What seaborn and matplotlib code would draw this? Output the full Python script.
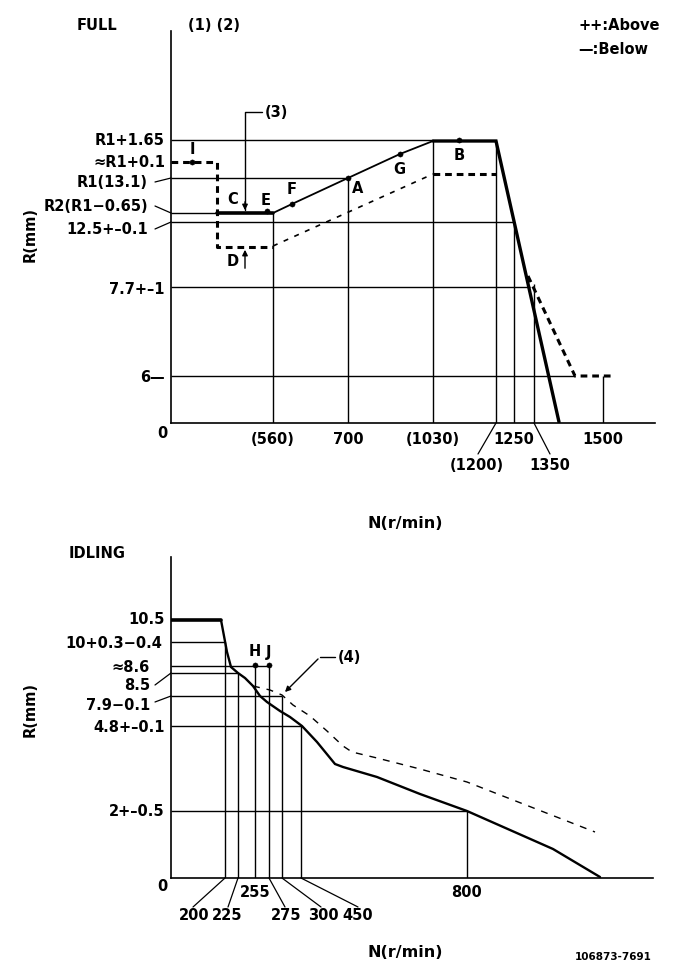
import matplotlib
matplotlib.use("Agg")
import matplotlib.pyplot as plt
import seaborn as sns
from matplotlib import font_manager

# Datos FULL (unidades del dibujo, origen en el cruce de ejes)
full_solid_flat_x = [46, 102]
full_solid_flat_y = [210, 210]
full_solid_rise_x = [102, 121, 177, 229, 262]
full_solid_rise_y = [210, 219, 245, 269, 282]
full_solid_top_x = [262, 325, 388]
full_solid_top_y = [282, 282, 1]
full_dash_low_x = [0, 46, 46, 102]
full_dash_low_y = [261, 261, 176, 176]
full_dash_rise_x = [102, 262]
full_dash_rise_y = [177, 249]
full_dash_top_x = [262, 325]
full_dash_top_y = [249, 249]
full_dash_fall_x = [357, 404, 442]
full_dash_fall_y = [147, 47, 47]

full_hlines_y = [283, 245, 210, 201, 136, 47]
full_hlines_end = [262, 177, 46, 343, 359, 404]
full_vlines_x = [102, 177, 262, 325, 343, 363, 432]
full_vlines_top = [210, 245, 282, 282, 201, 139, 47]

full_pts_name = ["I", "E", "F", "A", "G", "B"]
full_pts_x = [21, 96, 121, 177, 229, 288]
full_pts_y = [261, 212, 219, 245, 269, 283]
full_lbl_name = ["I", "C", "E", "F", "A", "G", "B", "D"]
full_lbl_x = [21, 62, 95, 121, 187, 228, 288, 62]
full_lbl_y = [274, 224, 223, 234, 235, 254, 268, 162]

full_ylabels = ["R1+1.65", "\u2248R1+0.1", "R1(13.1)", "R2(R1\u22120.65)", "12.5+\u20130.1", "7.7+\u20131", "6\u2014"]
full_ylabel_x = [-6, -6, -23, -23, -23, -6, -6]
full_ylabel_y = [283, 261, 241, 217, 194, 135, 47]
full_xlabels = ["(560)", "700", "(1030)", "1250", "1500", "(1200)", "1350"]
full_xlabel_x = [102, 177, 262, 343, 432, 306, 379]
full_xlabel_y = [-16, -16, -16, -16, -16, -42, -42]

# Datos IDLING
idl_solid_flat_x = [0, 50]
idl_solid_flat_y = [258, 258]
idl_solid_x = [50, 56, 60, 67, 74, 82, 89, 96, 109, 119, 131, 146, 164, 172, 206, 249, 296, 382, 429]
idl_solid_y = [258, 226, 211, 205, 200, 192, 182, 176, 167, 161, 152, 136, 114, 111, 101, 84, 67, 29, 1]
idl_dash_x = [82, 99, 111, 122, 139, 156, 172, 181, 206, 249, 296, 424]
idl_dash_y = [192, 188, 183, 173, 162, 147, 132, 126, 120, 109, 96, 46]

idl_hlines_y = [236, 212, 205, 182, 152, 67]
idl_hlines_end = [54, 99, 67, 111, 131, 296]
idl_vlines_x = [54, 67, 84, 98, 111, 130, 296]
idl_vlines_top = [236, 205, 212, 212, 182, 152, 67]

idl_pts_name = ["H", "J"]
idl_pts_x = [84, 98]
idl_pts_y = [213, 213]

idl_ylabels = ["10.5", "10+0.3\u22120.4", "\u22488.6", "8.5", "7.9\u22120.1", "4.8+\u20130.1", "2+\u20130.5"]
idl_ylabel_x = [-6, -9, -21, -21, -21, -6, -6]
idl_ylabel_y = [259, 236, 212, 193, 174, 152, 67]
idl_xlabels = ["255", "800", "200", "225", "275", "300", "450"]
idl_xlabel_x = [84, 296, 23, 56, 115, 152, 187]
idl_xlabel_y = [-14, -14, -37, -37, -37, -37, -37]

# Fuente estrecha si existe
names = {f.name for f in font_manager.fontManager.ttflist}
if "Liberation Sans Narrow" in names:
    fam = "Liberation Sans Narrow"
else:
    fam = "DejaVu Sans"

sns.set_theme(style="white")
plt.rcParams["font.family"] = [fam]

W, H = 681, 979
fig = plt.figure(figsize=(W / 100, H / 100), dpi=100)


def make_ax(x0, y0, x1, y1):
    ax = fig.add_axes([x0 / W, (H - y0) / H, (x1 - x0) / W, (y0 - y1) / H])
    ax.set_xlim(0, x1 - x0)
    ax.set_ylim(0, y0 - y1)
    for s in ["top", "right"]:
        ax.spines[s].set_visible(False)
    for s in ["left", "bottom"]:
        ax.spines[s].set_color("black")
        ax.spines[s].set_linewidth(1.2)
    ax.set_xticks([])
    ax.set_yticks([])
    ax.set_facecolor("white")
    return ax


def curva(ax, x, y, lw, dashes=None):
    line = sns.lineplot(x=x, y=y, estimator=None, sort=False, color="black",
                        lw=lw, ax=ax, legend=False)
    l = ax.lines[-1]
    if dashes:
        l.set_dashes(dashes)
    l.set_solid_joinstyle("miter")
    return line


txt = dict(color="black", fontsize=10.5, fontweight="bold", clip_on=False)

# ---------------- FULL ----------------
ax1 = make_ax(171, 424, 655, 32)
for yv, xe in zip(full_hlines_y, full_hlines_end):
    ax1.hlines(yv, 0, xe, color="black", lw=1)
for xv, yt in zip(full_vlines_x, full_vlines_top):
    ax1.vlines(xv, 0, yt, color="black", lw=1)

curva(ax1, full_solid_flat_x, full_solid_flat_y, 2.6)
curva(ax1, full_solid_rise_x, full_solid_rise_y, 1.3)
curva(ax1, full_solid_top_x, full_solid_top_y, 2.4)
curva(ax1, full_dash_low_x, full_dash_low_y, 2.2, (2.2, 1.6))
curva(ax1, full_dash_rise_x, full_dash_rise_y, 1.2, (3, 4))
curva(ax1, full_dash_top_x, full_dash_top_y, 2.2, (2.2, 1.6))
curva(ax1, full_dash_fall_x, full_dash_fall_y, 2.2, (2.2, 1.6))

sns.scatterplot(x=full_pts_x, y=full_pts_y, color="black", s=14, ax=ax1,
                edgecolor="black", legend=False)
for n, x, y in zip(full_lbl_name, full_lbl_x, full_lbl_y):
    ax1.text(x, y, n, ha="center", va="center", **txt)

# indicador (3)
ax1.plot([74, 74, 91], [213, 311, 311], color="black", lw=1)
ax1.annotate("", xy=(74, 210), xytext=(74, 224),
             arrowprops=dict(arrowstyle="-|>", color="black", lw=1, mutation_scale=8))
ax1.annotate("", xy=(74, 176), xytext=(74, 152),
             arrowprops=dict(arrowstyle="-|>", color="black", lw=1, mutation_scale=8))
ax1.text(94, 311, "(3)", ha="left", va="center", **txt)

for lab, x, y in zip(full_ylabels, full_ylabel_x, full_ylabel_y):
    ax1.text(x, y, lab, ha="right", va="center", **txt)
for y0, y1 in [(241, 245), (217, 210), (194, 201)]:
    ax1.plot([-16, 0], [y0, y1], color="black", lw=0.9, clip_on=False)
ax1.text(-9, -10, "0", ha="center", va="center", **txt)
for lab, x, y in zip(full_xlabels, full_xlabel_x, full_xlabel_y):
    ax1.text(x, y, lab, ha="center", va="center", **txt)
ax1.plot([325, 307], [0, -31], color="black", lw=0.9, clip_on=False)
ax1.plot([363, 379], [0, -31], color="black", lw=0.9, clip_on=False)

# ---------------- IDLING ----------------
ax2 = make_ax(171, 879, 653, 558)
for yv, xe in zip(idl_hlines_y, idl_hlines_end):
    ax2.hlines(yv, 0, xe, color="black", lw=1)
for xv, yt in zip(idl_vlines_x, idl_vlines_top):
    ax2.vlines(xv, 0, yt, color="black", lw=1)

curva(ax2, idl_solid_flat_x, idl_solid_flat_y, 2.6)
curva(ax2, idl_solid_x, idl_solid_y, 1.7)
curva(ax2, idl_dash_x, idl_dash_y, 1.0, (5, 5))

sns.scatterplot(x=idl_pts_x, y=idl_pts_y, color="black", s=14, ax=ax2,
                edgecolor="black", legend=False)
for n, x, y in zip(idl_pts_name, idl_pts_x, [227, 227]):
    ax2.text(x, y, n, ha="center", va="center", **txt)

# indicador (4)
ax2.plot([149, 164], [221, 221], color="black", lw=1)
ax2.annotate("", xy=(112, 184), xytext=(149, 221),
             arrowprops=dict(arrowstyle="-|>", color="black", lw=1, mutation_scale=8))
ax2.text(167, 221, "(4)", ha="left", va="center", **txt)

for lab, x, y in zip(idl_ylabels, idl_ylabel_x, idl_ylabel_y):
    ax2.text(x, y, lab, ha="right", va="center", **txt)
for y0, y1 in [(193, 205), (176, 182)]:
    ax2.plot([-16, 0], [y0, y1], color="black", lw=0.9, clip_on=False)
ax2.text(-9, -8, "0", ha="center", va="center", **txt)
for lab, x, y in zip(idl_xlabels, idl_xlabel_x, idl_xlabel_y):
    ax2.text(x, y, lab, ha="center", va="center", **txt)
for xa, xb in [(54, 22), (67, 57), (98, 114), (111, 150), (130, 187)]:
    ax2.plot([xa, xb], [0, -29], color="black", lw=0.9, clip_on=False)

# ---------------- Textos generales ----------------
def ftext(x, y, s, **kw):
    opts = dict(txt)
    opts.pop("clip_on")
    opts.update(kw)
    fig.text(x / W, 1 - y / H, s, **opts)

ftext(97, 25, "FULL", ha="center", va="center")
ftext(214, 25, "(1) (2)", ha="center", va="center")
ftext(578, 25, "++:Above", ha="left", va="center")
ftext(578, 49, "\u2014:Below", ha="left", va="center")
ftext(30, 235, "R(mm)", ha="center", va="center", rotation=90)
ftext(405, 523, "N(r/min)", ha="center", va="center", fontsize=11.5)
ftext(97, 553, "IDLING", ha="center", va="center")
ftext(30, 710, "R(mm)", ha="center", va="center", rotation=90)
ftext(405, 953, "N(r/min)", ha="center", va="center", fontsize=11.5)
ftext(613, 957, "106873-7691", ha="center", va="center", fontsize=7.5)

fig.savefig("out.png", dpi=100, facecolor="white")
